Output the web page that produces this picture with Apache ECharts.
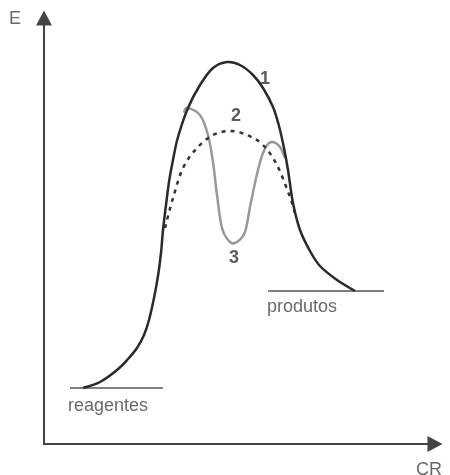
<!DOCTYPE html>
<html>
<head>
<meta charset="utf-8">
<script src="https://cdn.jsdelivr.net/npm/echarts@6/dist/echarts.min.js"></script>
<style>html,body{margin:0;padding:0;background:#fff;}#chart{width:450px;height:475px;}</style>
</head>
<body>
<div id="chart"></div>
<script>
// Reaction coordinate (CR) vs energy (E), arbitrary units
var curve1 = [[39,56],[56,62],[73,74],[84,85],[93,96],[100,109],[105,124],[110,146],[114,168],[117,191],[119,214],[122,239],[125,262],[129,284],[134,307],[144,336],[156,359],[169,376],[183,382],[196,379],[209,369],[219,356],[229,337],[235,318],[240,296],[244,274],[249,241],[256,214],[266,193],[276,178],[293,164],[311,153]];
var curve2 = [[121,216],[129,246],[139,276],[153,296],[169,309],[186,313],[203,309],[219,299],[233,279],[246,247],[251,231]];
var curve3 = [[140,331],[143,336],[156,329],[164,309],[169,282],[173,249],[178,216],[186,202],[193,202],[201,212],[206,237],[213,270],[219,291],[224,300],[229,302],[236,297],[241,286]];
var reagentesLevel = [[26,56],[119,56]];
var produtosLevel = [[224,153],[340,153]];
var curveNames = ['1','2','3'];
var curveLabelPos = [[221,365],[192,328],[190,186]];
var textLabels = ['reagentes','produtos','E','CR'];
var textLabelPos = [[64,38],[258,137],[-29,425],[385,-26]];

var chart = echarts.init(document.getElementById('chart'), null, {renderer:'canvas'});
var axisStyle = {show:true, symbol:['none','triangle'], symbolSize:[16,15], lineStyle:{color:'#444', width:2}};
var font = 'Liberation Sans, Arial, sans-serif';

function splineSeries(points, style, z) {
  return {
    type:'custom', z:z, clip:false, silent:true,
    data:points,
    renderItem:function(params, api){
      if (params.dataIndex !== 0) return null;
      var p = points.map(function(d){ return api.coord(d); });
      var n = p.length;
      var d = 'M' + p[0][0] + ' ' + p[0][1];
      for (var i = 0; i < n - 1; i++) {
        var p0 = p[Math.max(i-1,0)], p1 = p[i], p2 = p[i+1], p3 = p[Math.min(i+2,n-1)];
        var c1x = p1[0] + (p2[0]-p0[0])/6, c1y = p1[1] + (p2[1]-p0[1])/6;
        var c2x = p2[0] - (p3[0]-p1[0])/6, c2y = p2[1] - (p3[1]-p1[1])/6;
        d += ' C' + c1x + ' ' + c1y + ' ' + c2x + ' ' + c2y + ' ' + p2[0] + ' ' + p2[1];
      }
      return {type:'path', shape:{pathData:d}, style:Object.assign({fill:null}, style)};
    }
  };
}

chart.setOption({
  animation:false,
  backgroundColor:'#fff',
  grid:{left:44, right:15, top:18, bottom:31, containLabel:false},
  xAxis:{type:'value', min:0, max:391, axisLine:axisStyle, axisTick:{show:false}, axisLabel:{show:false}, splitLine:{show:false}},
  yAxis:{type:'value', min:0, max:426, axisLine:axisStyle, axisTick:{show:false}, axisLabel:{show:false}, splitLine:{show:false}},
  series:[
    {type:'line', data:reagentesLevel, showSymbol:false, lineStyle:{color:'#555', width:1.5}, z:1},
    {type:'line', data:produtosLevel, showSymbol:false, lineStyle:{color:'#555', width:1.5}, z:1},
    splineSeries(curve3, {stroke:'#999', lineWidth:2.5}, 2),
    splineSeries(curve2, {stroke:'#333', lineWidth:2.5, lineDash:[4,5]}, 3),
    splineSeries(curve1, {stroke:'#2a2a2a', lineWidth:2.5}, 4),
    {type:'scatter', clip:false, symbolSize:0, z:5,
      data:curveNames.map(function(n,i){return {name:n, value:curveLabelPos[i]};}),
      label:{show:true, position:'inside', formatter:'{b}', color:'#333', fontSize:18, fontWeight:'bold', fontFamily:font}},
    {type:'scatter', clip:false, symbolSize:0, z:5,
      data:textLabels.map(function(n,i){return {name:n, value:textLabelPos[i]};}),
      label:{show:true, position:'inside', formatter:'{b}', color:'#444', fontSize:18, fontFamily:font}}
  ]
});
</script>
</body>
</html>
